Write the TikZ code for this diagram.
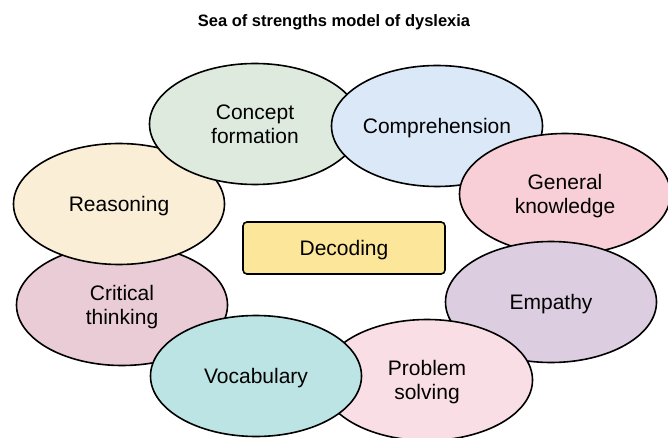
\documentclass[tikz,border=0pt]{standalone}
\usepackage{fontspec}
\setmainfont{Liberation Sans}
\usepackage{tikz}
\usetikzlibrary{shapes.geometric}
\definecolor{cconcept}{RGB}{222,234,222}
\definecolor{ccompre}{RGB}{218,232,247}
\definecolor{cgeneral}{RGB}{248,206,215}
\definecolor{cempathy}{RGB}{220,206,224}
\definecolor{cproblem}{RGB}{250,222,229}
\definecolor{cvocab}{RGB}{188,228,228}
\definecolor{ccritical}{RGB}{234,204,214}
\definecolor{creason}{RGB}{250,238,215}
\definecolor{cdecode}{RGB}{252,230,153}
\tikzset{
  sea/.style={ellipse, draw=black, line width=1.6pt, minimum width=211pt,
    minimum height=121pt, inner sep=0pt, align=center, text depth=0pt,
    font=\fontsize{21}{24}\selectfont},
  core/.style={rectangle, rounded corners=4pt, draw=black, line width=1.6pt,
    fill=cdecode, minimum width=202pt, minimum height=52pt, text depth=0pt,
    font=\fontsize{21}{24}\selectfont},
  ttl/.style={font=\fontsize{16.5}{20}\selectfont\bfseries},
}
\begin{document}
\begin{tikzpicture}[x=1pt, y=-1pt]
\useasboundingbox (0,0) rectangle (668,438);
\node[ttl] (title) at (334,22) {Sea of strengths model of dyslexia};
% ring of strengths, back to front
\node[sea, fill=ccritical] (critical) at (122,305) {Critical\\thinking};
\node[sea, fill=creason] (reason) at (119,204) {Reasoning};
\node[sea, fill=cconcept] (concept) at (255,124) {Concept\\formation};
\node[sea, fill=ccompre] (compre) at (437,126) {Comprehension};
\node[sea, fill=cgeneral] (general) at (565,194) {General\\knowledge};
\node[sea, fill=cempathy] (empathy) at (551,302) {Empathy};
\node[sea, fill=cproblem] (problem) at (427,380) {Problem\\solving};
\node[sea, fill=cvocab] (vocab) at (256,376) {Vocabulary};
% weakness in the middle
\node[core] (decode) at (344,248) {Decoding};
\end{tikzpicture}
\end{document}
